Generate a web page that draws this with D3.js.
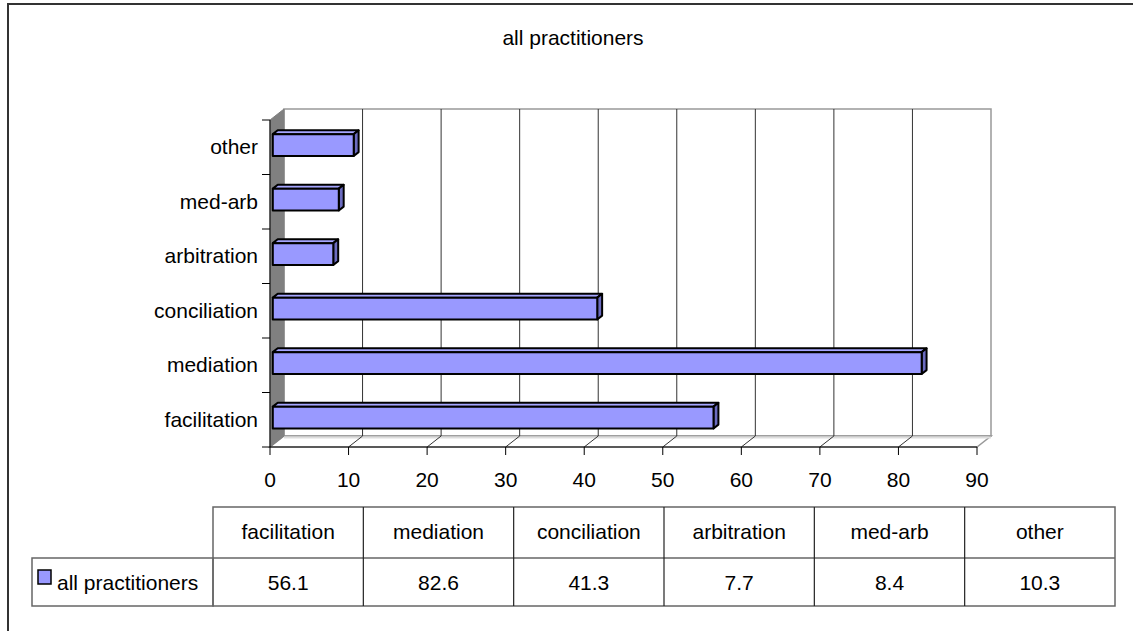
<!DOCTYPE html>
<html>
<head>
<meta charset="utf-8">
<script src="https://cdn.jsdelivr.net/npm/d3@7"></script>
<style>
  body { margin: 0; background: #fff; }
  svg text { font-family: "Liberation Sans", Arial, sans-serif; fill: #000; }
</style>
</head>
<body>
<div id="chart"></div>
<script>
// data
var title = "all practitioners";
var seriesName = "all practitioners";
var categories = ["facilitation", "mediation", "conciliation", "arbitration", "med-arb", "other"];
var values = [56.1, 82.6, 41.3, 7.7, 8.4, 10.3];
var xTicks = [0, 10, 20, 30, 40, 50, 60, 70, 80, 90];

(function chart(){
  var W = 1133, H = 631;
  // front plane of the 3d box
  var left = 270, right = 977, top = 120, bottom = 447;
  // depth of the box
  var dx = 14, dy = -11;
  // bars sit between these fractions of the depth
  var f0 = 0.2, f1 = 0.55;

  var svg = d3.select("#chart").append("svg")
    .attr("width", W)
    .attr("height", H);

  // outer chart border
  svg.append("rect")
    .attr("x", 8).attr("y", 4)
    .attr("width", W + 20).attr("height", H + 20)
    .attr("fill", "#fff")
    .attr("stroke", "#333")
    .attr("stroke-width", 2);

  var x = d3.scaleLinear().domain([0, 90]).range([left, right]);
  var y = d3.scaleBand().domain(categories).range([bottom, top]).paddingInner(0);
  var bw = y.bandwidth();

  // title
  svg.append("text")
    .attr("x", 573).attr("y", 45)
    .attr("text-anchor", "middle")
    .style("font-size", "21px")
    .text(title);

  // back wall
  svg.append("rect")
    .attr("x", left + dx).attr("y", top + dy)
    .attr("width", right - left).attr("height", bottom - top)
    .attr("fill", "#fff")
    .attr("stroke", "#999")
    .attr("stroke-width", 1.5);

  // floor
  svg.append("path")
    .attr("d", "M" + left + "," + bottom + "L" + right + "," + bottom +
               "L" + (right + dx) + "," + (bottom + dy) + "L" + (left + dx) + "," + (bottom + dy) + "Z")
    .attr("fill", "#fff")
    .attr("stroke", "#999")
    .attr("stroke-width", 1.5);
  svg.append("line")
    .attr("x1", left + dx).attr("x2", right + dx)
    .attr("y1", bottom + dy + 1.5).attr("y2", bottom + dy + 1.5)
    .attr("stroke", "#ddd").attr("stroke-width", 2);

  // gridlines on the back wall and the floor
  var inner = xTicks.filter(function(d){ return d > 0 && d < 90; });
  svg.selectAll(".grid")
      .data(inner)
    .enter().append("line")
      .attr("class", "grid")
      .attr("x1", function(d){ return x(d) + dx; })
      .attr("x2", function(d){ return x(d) + dx; })
      .attr("y1", top + dy)
      .attr("y2", bottom + dy)
      .attr("stroke", "#333")
      .attr("stroke-width", 1);
  svg.selectAll(".floorgrid")
      .data(inner)
    .enter().append("line")
      .attr("class", "floorgrid")
      .attr("x1", function(d){ return x(d); })
      .attr("x2", function(d){ return x(d) + dx; })
      .attr("y1", bottom)
      .attr("y2", bottom + dy)
      .attr("stroke", "#333")
      .attr("stroke-width", 1);

  // left side wall
  svg.append("path")
    .attr("d", "M" + left + "," + top + "L" + (left + dx) + "," + (top + dy) +
               "L" + (left + dx) + "," + (bottom + dy) + "L" + left + "," + bottom + "Z")
    .attr("fill", "#808080")
    .attr("stroke", "#808080")
    .attr("stroke-width", 1);

  // axes lines
  svg.append("line")
    .attr("x1", left).attr("x2", left)
    .attr("y1", top).attr("y2", bottom)
    .attr("stroke", "#000").attr("stroke-width", 1);
  svg.append("line")
    .attr("x1", left).attr("x2", right)
    .attr("y1", bottom).attr("y2", bottom)
    .attr("stroke", "#000").attr("stroke-width", 1);

  // x ticks and labels
  svg.selectAll(".xtick")
      .data(xTicks)
    .enter().append("line")
      .attr("class", "xtick")
      .attr("x1", function(d){ return x(d); })
      .attr("x2", function(d){ return x(d); })
      .attr("y1", bottom)
      .attr("y2", bottom + 8)
      .attr("stroke", "#000");
  svg.selectAll(".xlabel")
      .data(xTicks)
    .enter().append("text")
      .attr("class", "xlabel")
      .attr("x", function(d){ return x(d); })
      .attr("y", bottom + 40)
      .attr("text-anchor", "middle")
      .style("font-size", "21px")
      .text(function(d){ return d; });

  // y ticks at band edges
  var edges = categories.map(function(c){ return y(c); }).concat([bottom]);
  svg.selectAll(".ytick")
      .data(edges)
    .enter().append("line")
      .attr("class", "ytick")
      .attr("x1", left - 8)
      .attr("x2", left)
      .attr("y1", function(d){ return d; })
      .attr("y2", function(d){ return d; })
      .attr("stroke", "#000");
  svg.selectAll(".ylabel")
      .data(categories)
    .enter().append("text")
      .attr("class", "ylabel")
      .attr("x", left - 12)
      .attr("y", function(d){ return y(d) + bw / 2 + 7; })
      .attr("text-anchor", "end")
      .style("font-size", "21px")
      .text(function(d){ return d; });

  // 3d bars
  var barH = bw / 2.5;
  var ddx = dx * (f1 - f0), ddy = dy * (f1 - f0);
  var bars = categories.map(function(c, i){
    var xl = x(0) + dx * f0, xr = x(values[i]) + dx * f0;
    var yt = y(c) + (bw - barH) / 2 + dy * f0, yb = yt + barH;
    return {xl: xl, xr: xr, yt: yt, yb: yb};
  });
  var g = svg.selectAll(".bar")
      .data(bars)
    .enter().append("g")
      .attr("class", "bar");
  g.append("path")
    .attr("d", function(b){
      return "M" + b.xl + "," + b.yt + "L" + b.xr + "," + b.yt +
             "L" + (b.xr + ddx) + "," + (b.yt + ddy) + "L" + (b.xl + ddx) + "," + (b.yt + ddy) + "Z";
    })
    .attr("fill", "#a6a6ff");
  g.append("path")
    .attr("d", function(b){
      return "M" + b.xr + "," + b.yt + "L" + (b.xr + ddx) + "," + (b.yt + ddy) +
             "L" + (b.xr + ddx) + "," + (b.yb + ddy) + "L" + b.xr + "," + b.yb + "Z";
    })
    .attr("fill", "#6b6bbf");
  g.append("rect")
    .attr("x", function(b){ return b.xl; })
    .attr("y", function(b){ return b.yt; })
    .attr("width", function(b){ return b.xr - b.xl; })
    .attr("height", function(b){ return b.yb - b.yt; })
    .attr("fill", "#9999ff");
  g.selectAll("path, rect")
    .attr("stroke", "#000")
    .attr("stroke-width", 2)
    .attr("stroke-linejoin", "round");

  // data table
  var tLeft = 213, tRight = 1115, tTop = 507, tMid = 558, tBot = 606, legLeft = 32;
  var col = d3.scaleBand().domain(categories).range([tLeft, tRight]);
  var cw = col.bandwidth();
  var tg = svg.append("g").attr("class", "table");
  tg.append("rect")
    .attr("x", tLeft).attr("y", tTop)
    .attr("width", tRight - tLeft).attr("height", tBot - tTop)
    .attr("fill", "none").attr("stroke", "#666").attr("stroke-width", 1.5);
  tg.append("rect")
    .attr("x", legLeft).attr("y", tMid)
    .attr("width", tLeft - legLeft).attr("height", tBot - tMid)
    .attr("fill", "none").attr("stroke", "#666").attr("stroke-width", 1.5);
  tg.append("line")
    .attr("x1", tLeft).attr("x2", tRight)
    .attr("y1", tMid).attr("y2", tMid)
    .attr("stroke", "#666").attr("stroke-width", 1.5);
  tg.selectAll(".colline")
      .data(categories.slice(1))
    .enter().append("line")
      .attr("x1", function(d){ return col(d); })
      .attr("x2", function(d){ return col(d); })
      .attr("y1", tTop).attr("y2", tBot)
      .attr("stroke", "#222").attr("stroke-width", 1.2);
  tg.selectAll(".head")
      .data(categories)
    .enter().append("text")
      .attr("x", function(d){ return col(d) + cw / 2; })
      .attr("y", 539)
      .attr("text-anchor", "middle")
      .style("font-size", "21px")
      .text(function(d){ return d; });
  tg.selectAll(".val")
      .data(values)
    .enter().append("text")
      .attr("x", function(d, i){ return col(categories[i]) + cw / 2; })
      .attr("y", 590)
      .attr("text-anchor", "middle")
      .style("font-size", "21px")
      .text(function(d){ return d; });

  // legend key in the table
  tg.append("rect")
    .attr("x", 38).attr("y", 570)
    .attr("width", 13).attr("height", 14)
    .attr("fill", "#9999ff").attr("stroke", "#000").attr("stroke-width", 1.5);
  tg.append("text")
    .attr("x", 57).attr("y", 590)
    .style("font-size", "21px")
    .text(seriesName);
}());
</script>
</body>
</html>
